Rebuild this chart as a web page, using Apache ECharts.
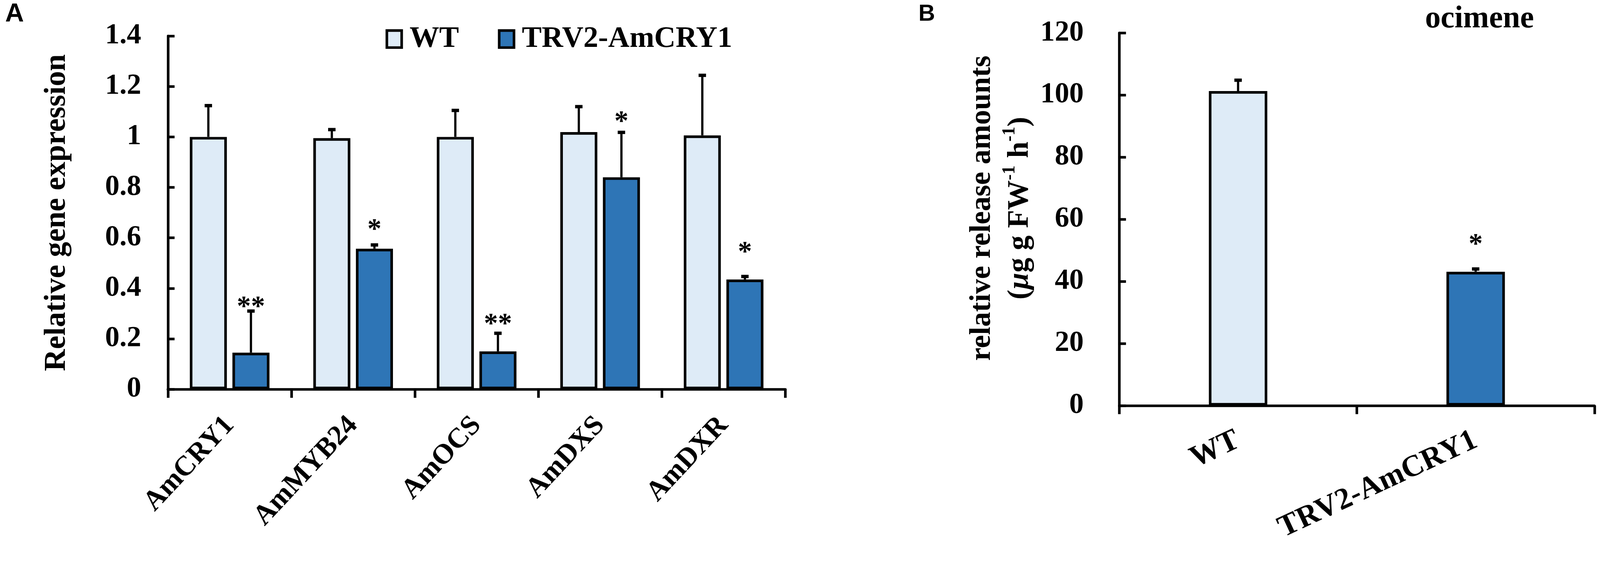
<!DOCTYPE html>
<html>
<head>
<meta charset="utf-8">
<title>AmCRY1 silencing - gene expression and ocimene release</title>
<script src="https://cdn.jsdelivr.net/npm/echarts/dist/echarts.min.js"></script>
<style>
    html, body { margin: 0; padding: 0; background: #fff; overflow: hidden; }
    #chart { width: 100vw; height: 100vh; }
</style>
</head>
<body>
<div id="chart"></div>
<script>
// Panel A: relative expression (WT vs TRV2-AmCRY1)
var genes = ['AmCRY1', 'AmMYB24', 'AmOCS', 'AmDXS', 'AmDXR'];
var wtExpr = [1.0, 0.995, 1.0, 1.019, 1.006];
var wtErr = [0.124, 0.034, 0.105, 0.101, 0.238];
var trvExpr = [0.145, 0.557, 0.15, 0.84, 0.435];
var trvErr = [0.165, 0.015, 0.072, 0.178, 0.012];
var trvSig = ['**', '*', '**', '*', '*'];
var trvSigY = [0.34, 0.646, 0.272, 1.074, 0.557];

// Panel B: ocimene release
var groups = ['WT', 'TRV2-AmCRY1'];
var ocimene = [101.3, 43.1];
var ocimeneErr = [3.5, 0.9];
var ocimeneSig = ['', '*'];
var ocimeneSigY = [null, 53];

var SERIF = '"Liberation Serif", "Times New Roman", serif';
var SANS = '"Liberation Sans", Arial, sans-serif';
var WT_COLOR = '#deebf7';
var TRV_COLOR = '#2e75b6';

var chartDom = document.getElementById('chart');
var myChart = echarts.init(chartDom);

// layout was measured on a 4317x1451 picture, scale it to the real viewport
var k = Math.min(myChart.getWidth() / 4317, myChart.getHeight() / 1451);
function s(v) { return v * k; }

function boldText(size) {
    return {fontFamily: SERIF, fontWeight: 'bold', fontSize: s(size), color: '#000'};
}

// error bar (upper half only) + significance marks
function errorSeries(axisIdx, means, errs, side, widthFrac, gapFrac, sigs, sigY) {
    return {
        type: 'custom',
        xAxisIndex: axisIdx,
        yAxisIndex: axisIdx,
        z: 5,
        silent: true,
        data: means.map(function (m, i) {
            return [i, m, m + errs[i], sigY ? sigY[i] : null];
        }),
        encode: {x: 0, y: [1, 2]},
        renderItem: function (params, api) {
            var i = api.value(0);
            var band = api.size([1, 0])[0];
            var bw = band * widthFrac;
            var off = side * bw * (1 + gapFrac) / 2;
            var base = api.coord([i, api.value(1)]);
            var top = api.coord([i, api.value(2)]);
            var x = base[0] + off;
            var children = [
                {type: 'line', shape: {x1: x, y1: base[1], x2: x, y2: top[1]},
                    style: {stroke: '#000', lineWidth: s(6)}},
                {type: 'line', shape: {x1: x - s(10), y1: top[1], x2: x + s(10), y2: top[1]},
                    style: {stroke: '#000', lineWidth: s(9)}}
            ];
            var mark = sigs ? sigs[params.dataIndex] : '';
            if (mark) {
                var p = api.coord([i, api.value(3)]);
                children.push({
                    type: 'text', x: x, y: p[1] + s(11),
                    style: {text: mark, fill: '#000', fontFamily: SERIF, fontWeight: 'bold', fontSize: s(76),
                        align: 'center', verticalAlign: 'middle'}
                });
            }
            return {type: 'group', children: children};
        }
    };
}

var axisLineStyle = {show: true, lineStyle: {color: '#000', width: s(7)}};
var tickOut = {show: true, length: s(23), lineStyle: {color: '#000', width: s(7)}};
var tickIn = {show: true, inside: true, length: s(18), lineStyle: {color: '#000', width: s(7)}};

var option = {
    animation: false,
    backgroundColor: '#fff',
    title: [
        {text: 'A', left: s(14), top: s(4), padding: 0,
            textStyle: {fontFamily: SANS, fontWeight: 'bold', fontSize: s(70), color: '#000'}},
        {text: 'B', left: s(2478), top: s(8), padding: 0,
            textStyle: {fontFamily: SANS, fontWeight: 'bold', fontSize: s(62), color: '#000'}},
        {text: 'ocimene', left: s(3845), top: s(10), padding: 0, textStyle: boldText(84)}
    ],
    legend: {
        data: ['WT', 'TRV2-AmCRY1'],
        left: s(1035),
        top: s(60),
        icon: 'rect',
        itemWidth: s(40),
        itemHeight: s(46),
        itemGap: s(105),
        selectedMode: false,
        itemStyle: {borderColor: '#000', borderWidth: s(7)},
        textStyle: Object.assign(boldText(80), {padding: [0, 0, 0, s(16)]})
    },
    grid: [
        {left: s(453), top: s(97), width: s(1666), height: s(953), outerBoundsMode: 'none'},
        {left: s(3020), top: s(89), width: s(1282), height: s(1005), outerBoundsMode: 'none'}
    ],
    xAxis: [
        {
            type: 'category', gridIndex: 0, data: genes,
            axisLine: axisLineStyle,
            axisTick: tickOut,
            axisLabel: Object.assign(boldText(76), {rotate: 47, margin: s(85), interval: 0}),
            splitLine: {show: false}
        },
        {
            type: 'category', gridIndex: 1, data: groups,
            axisLine: axisLineStyle,
            axisTick: tickOut,
            axisLabel: Object.assign(boldText(82), {rotate: 25, margin: s(90), interval: 0}),
            splitLine: {show: false}
        }
    ],
    yAxis: [
        {
            type: 'value', gridIndex: 0, min: 0, max: 1.4, interval: 0.2,
            name: 'Relative gene expression', nameLocation: 'middle', nameRotate: 90, nameGap: s(258),
            nameTextStyle: boldText(82),
            axisLine: axisLineStyle,
            axisTick: tickIn,
            axisLabel: Object.assign(boldText(78), {margin: s(72)}),
            splitLine: {show: false}
        },
        {
            type: 'value', gridIndex: 1, min: 0, max: 120, interval: 20,
            name: '{a|relative release amounts}\n{a|(}{mu|\u00b5}{a|g g FW}{sup|-1}{a| h}{sup|-1}{a|)}',
            nameLocation: 'middle', nameRotate: 90, nameGap: s(217),
            nameTextStyle: Object.assign(boldText(80), {
                lineHeight: s(102),
                padding: [0, 0, 0, s(60)],
                rich: {
                    a: Object.assign(boldText(80), {lineHeight: s(102)}),
                    mu: Object.assign(boldText(80), {lineHeight: s(102), fontStyle: 'italic'}),
                    sup: Object.assign(boldText(48), {lineHeight: s(80), verticalAlign: 'top'})
                }
            }),
            axisLine: axisLineStyle,
            axisTick: tickIn,
            axisLabel: Object.assign(boldText(78), {margin: s(96)}),
            splitLine: {show: false}
        }
    ],
    series: [
        {
            name: 'WT', type: 'bar', xAxisIndex: 0, yAxisIndex: 0, data: wtExpr,
            barWidth: '30%', barGap: '15%', silent: true,
            itemStyle: {color: WT_COLOR, borderColor: '#000', borderWidth: s(7)}
        },
        {
            name: 'TRV2-AmCRY1', type: 'bar', xAxisIndex: 0, yAxisIndex: 0, data: trvExpr,
            barWidth: '30%', barGap: '15%', silent: true,
            itemStyle: {color: TRV_COLOR, borderColor: '#000', borderWidth: s(7)}
        },
        errorSeries(0, wtExpr, wtErr, -1, 0.30, 0.15, null, null),
        errorSeries(0, trvExpr, trvErr, 1, 0.30, 0.15, trvSig, trvSigY),
        {
            type: 'bar', xAxisIndex: 1, yAxisIndex: 1, barWidth: '24.6%', silent: true,
            data: ocimene.map(function (v, i) {
                return {value: v, itemStyle: {color: i === 0 ? WT_COLOR : TRV_COLOR}};
            }),
            itemStyle: {borderColor: '#000', borderWidth: s(7)}
        },
        errorSeries(1, ocimene, ocimeneErr, 0, 0.246, 0, ocimeneSig, ocimeneSigY)
    ]
};

myChart.setOption(option);
</script>
</body>
</html>
